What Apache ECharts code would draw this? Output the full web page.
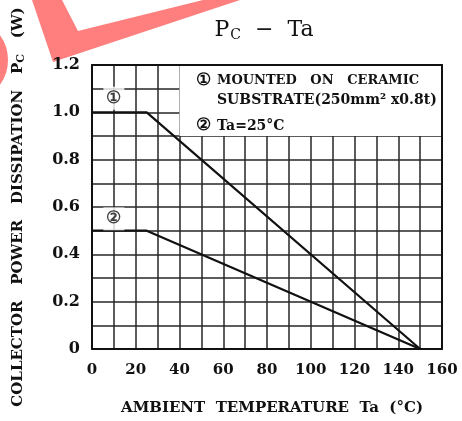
<!DOCTYPE html>
<html>
<head>
<meta charset="utf-8">
<script src="https://cdn.jsdelivr.net/npm/echarts@6/dist/echarts.min.js"></script>
<style>
html,body{margin:0;padding:0;background:#fff;}
#chart{width:462px;height:421px;}
</style>
</head>
<body>
<div id="chart"></div>
<script>
// ---- data ----
const temp1 = [0, 25, 150];
const pc1 = [1.0, 1.0, 0];
const temp2 = [0, 25, 150];
const pc2 = [0.5, 0.5, 0];
const curveTags = [[10, 1.06, '①'], [10, 0.55, '②']];
const xTickLabels = [0, 20, 40, 60, 80, 100, 120, 140, 160];
const yTickLabels = ['0', '0.2', '0.4', '0.6', '0.8', '1.0', '1.2'];
const noteBox = [[40, 0.9], [160, 1.2]];
const noteLines = ['MOUNTED   ON   CERAMIC', 'SUBSTRATE(250mm\u00B2 x0.8t)', 'Ta=25\u00B0C'];

const FONT = '"DejaVu Serif", "Liberation Serif", serif';
const INK = '#111';
const RED = '#ff7f7f';

const chart = echarts.init(document.getElementById('chart'), null, {renderer: 'canvas'});

const option = {
  animation: false,
  backgroundColor: '#fff',
  grid: {left: 92, right: 20, top: 65, bottom: 72, show: false},
  xAxis: [{
    type: 'value', min: 0, max: 160, interval: 10,
    axisLine: {show: true, onZero: false, lineStyle: {color: INK, width: 2}},
    axisTick: {show: false},
    axisLabel: {
      margin: 14, color: INK, fontFamily: FONT, fontWeight: 'bold', fontSize: 15,
      formatter: v => xTickLabels.indexOf(v) >= 0 ? String(v) : ''
    },
    splitLine: {show: true, lineStyle: {color: '#262626', width: 1.5}},
    name: 'AMBIENT  TEMPERATURE  Ta  (\u00B0C)',
    nameLocation: 'middle', nameGap: 52,
    nameTextStyle: {color: INK, fontFamily: FONT, fontWeight: 'bold', fontSize: 15, padding: [0, 0, 0, 10]}
  }, {
    type: 'value', min: 0, max: 160, position: 'top', z: 10,
    axisLine: {show: true, onZero: false, lineStyle: {color: INK, width: 2}},
    axisTick: {show: false}, axisLabel: {show: false}, splitLine: {show: false}
  }],
  yAxis: [{
    type: 'value', min: 0, max: 1.2, interval: 0.1,
    axisLine: {show: true, onZero: false, lineStyle: {color: INK, width: 2}},
    axisTick: {show: false},
    axisLabel: {
      margin: 12, color: INK, fontFamily: FONT, fontWeight: 'bold', fontSize: 16,
      formatter: v => {
        const s = Math.abs(v) < 1e-9 ? '0' : v.toFixed(1);
        return yTickLabels.indexOf(s) >= 0 ? s : '';
      }
    },
    splitLine: {show: true, lineStyle: {color: '#262626', width: 1.5}},
    name: 'COLLECTOR   POWER   DISSIPATION   {b|P}{s|C}   (W)',
    nameLocation: 'middle', nameGap: 65, nameRotate: 90,
    nameTextStyle: {
      color: INK, fontFamily: FONT, fontWeight: 'bold', fontSize: 15,
      rich: {
        b: {fontFamily: FONT, fontWeight: 'bold', fontSize: 15, color: INK},
        s: {fontFamily: FONT, fontWeight: 'bold', fontSize: 11, color: INK, padding: [7, 0, 0, 0]}
      }
    }
  }, {
    type: 'value', min: 0, max: 1.2, position: 'right', z: 10,
    axisLine: {show: true, onZero: false, lineStyle: {color: INK, width: 2}},
    axisTick: {show: false}, axisLabel: {show: false}, splitLine: {show: false}
  }],
  graphic: [
    {
      type: 'polygon', z: -1, silent: true,
      shape: {points: [[32, 0], [62, 0], [78, 31], [203, 0], [240, 0], [53, 62]]},
      style: {fill: RED}
    },
    {
      type: 'circle', z: -1, silent: true,
      shape: {cx: -34, cy: 60, r: 38},
      style: {fill: 'none', stroke: RED, lineWidth: 8}
    },
    {
      type: 'text', z: 20, x: 264, y: 30,
      style: {
        text: '{b|P}{s|C}{b|  \u2212  Ta}',
        align: 'center', verticalAlign: 'middle',
        rich: {
          b: {fontFamily: FONT, fontSize: 22, fill: INK, color: INK},
          s: {fontFamily: FONT, fontSize: 14, fill: INK, color: INK, padding: [10, 0, 0, 1]}
        }
      }
    },
    {type: 'text', z: 20, x: 196, y: 81, style: {text: '①', font: 'bold 17px ' + FONT, fill: INK, verticalAlign: 'middle'}},
    {type: 'text', z: 20, x: 217, y: 81, style: {text: noteLines[0], font: 'bold 13px ' + FONT, fill: INK, verticalAlign: 'middle'}},
    {type: 'text', z: 20, x: 217, y: 100, style: {text: noteLines[1], font: 'bold 14px ' + FONT, fill: INK, verticalAlign: 'middle'}},
    {type: 'text', z: 20, x: 196, y: 126, style: {text: '②', font: 'bold 17px ' + FONT, fill: INK, verticalAlign: 'middle'}},
    {type: 'text', z: 20, x: 217, y: 126, style: {text: noteLines[2], font: 'bold 14px ' + FONT, fill: INK, verticalAlign: 'middle'}}
  ],
  series: [
    {
      name: 'note-area', type: 'line', data: [], silent: true,
      markArea: {
        silent: true,
        itemStyle: {color: '#fff', opacity: 1},
        data: [[{coord: noteBox[0]}, {coord: noteBox[1]}]]
      }
    },
    {
      name: 'curve1', type: 'line', symbol: 'none', z: 5,
      data: temp1.map((t, i) => [t, pc1[i]]),
      lineStyle: {color: INK, width: 2.2}
    },
    {
      name: 'curve2', type: 'line', symbol: 'none', z: 5,
      data: temp2.map((t, i) => [t, pc2[i]]),
      lineStyle: {color: INK, width: 2.2}
    },
    {
      name: 'tags', type: 'scatter', symbolSize: 0, z: 6,
      data: curveTags.map(d => ({value: [d[0], d[1]], name: d[2]})),
      label: {
        show: true, position: 'inside', formatter: p => p.name,
        color: INK, fontFamily: FONT, fontWeight: 'bold', fontSize: 17,
        backgroundColor: '#fff', padding: [3, 3, 3, 3]
      }
    }
  ]
};
chart.setOption(option);
</script>
</body>
</html>
